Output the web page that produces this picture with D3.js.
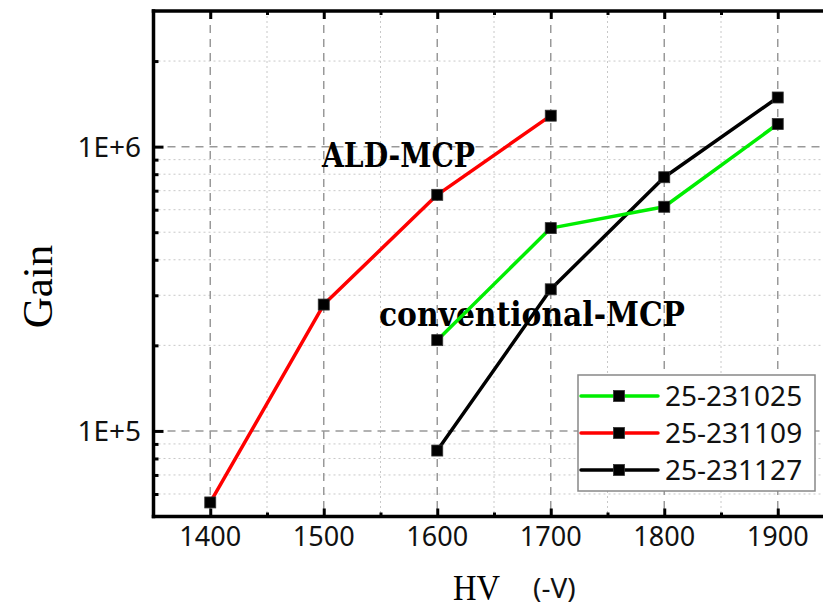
<!DOCTYPE html>
<html><head><meta charset="utf-8">
<script src="https://cdn.jsdelivr.net/npm/d3@7/dist/d3.min.js"></script>
<style>body{margin:0;background:#fff}svg{display:block}</style>
</head><body>
<script>
// ---- data ----
const hvValues = [1400, 1500, 1600, 1700, 1800, 1900];
const seriesNames = ["25-231025", "25-231109", "25-231127"];
const seriesColors = ["#00ee00", "#ff0000", "#000000"];
const hv231025 = [1600, 1700, 1800, 1900];
const gain231025 = [208600, 516900, 614400, 1201000];
const hv231109 = [1400, 1500, 1600, 1700];
const gain231109 = [56030, 278300, 676900, 1285000];
const hv231127 = [1600, 1700, 1800, 1900];
const gain231127 = [85300, 314900, 780500, 1489000];
const xTicks = [1400, 1500, 1600, 1700, 1800, 1900];
const xMinorTicks = [1450, 1550, 1650, 1750, 1850];
const yTicks = [1e5, 1e6];
const yTickLabels = ["1E+5", "1E+6"];
const yMinorTicks = [6e4, 7e4, 8e4, 9e4, 2e5, 3e5, 4e5, 5e5, 6e5, 7e5, 8e5, 9e5, 2e6];

const series = [
  {name: seriesNames[0], color: seriesColors[0], pts: hv231025.map((h,i)=>({x:h,y:gain231025[i]}))},
  {name: seriesNames[1], color: seriesColors[1], pts: hv231109.map((h,i)=>({x:h,y:gain231109[i]}))},
  {name: seriesNames[2], color: seriesColors[2], pts: hv231127.map((h,i)=>({x:h,y:gain231127[i]}))}
];

const W = 823, H = 609;
const L = 153.5, T = 11, B = 516.5, R = 834.5;
const svg = d3.select("body").append("svg").attr("width", W).attr("height", H);

const x = d3.scaleLinear().domain([1350, 1950]).range([L, R]);
const y = d3.scaleLog().domain([5e4, 3e6]).range([B, T]);

const sans = "'Noto Sans', 'Open Sans', sans-serif";
const serif = "'Liberation Serif', 'DejaVu Serif', serif";
const boldSerif = "'DejaVu Serif', 'Liberation Serif', serif";

// grid
const g = svg.append("g");
g.selectAll(".xminor").data(xMinorTicks).join("line")
  .attr("x1", d=>x(d)).attr("x2", d=>x(d)).attr("y1", T).attr("y2", B)
  .attr("stroke", "#c8c8c8").attr("stroke-width", 1).attr("stroke-dasharray", "2,3");
g.selectAll(".yminor").data(yMinorTicks).join("line")
  .attr("x1", L).attr("x2", R).attr("y1", d=>y(d)).attr("y2", d=>y(d))
  .attr("stroke", "#c8c8c8").attr("stroke-width", 1).attr("stroke-dasharray", "2,3");
g.selectAll(".xmajor").data(xTicks).join("line")
  .attr("x1", d=>x(d)).attr("x2", d=>x(d)).attr("y1", T).attr("y2", B)
  .attr("stroke", "#999").attr("stroke-width", 1.5).attr("stroke-dasharray", "8,6");
g.selectAll(".ymajor").data(yTicks).join("line")
  .attr("x1", L).attr("x2", R).attr("y1", d=>y(d)).attr("y2", d=>y(d))
  .attr("stroke", "#999").attr("stroke-width", 1.5).attr("stroke-dasharray", "8,6");

// annotations (beneath lines)
svg.append("text").attr("x", 322).attr("y", 167).text("ALD-MCP")
  .attr("font-family", boldSerif).attr("font-weight", "bold").attr("font-size", 33)
  .attr("textLength", 153).attr("lengthAdjust", "spacingAndGlyphs");
svg.append("text").attr("x", 379).attr("y", 326).text("conventional-MCP")
  .attr("font-family", boldSerif).attr("font-weight", "bold").attr("font-size", 33)
  .attr("textLength", 306).attr("lengthAdjust", "spacingAndGlyphs");

// axes with d3 axis (inward ticks)
const xAxisB = d3.axisBottom(x).tickValues(xTicks).tickSize(-8).tickFormat("").tickSizeOuter(0);
const gxb = svg.append("g").attr("transform", `translate(0,${B})`).call(xAxisB);
const xAxisBm = d3.axisBottom(x).tickValues(xMinorTicks).tickSize(-4).tickFormat("").tickSizeOuter(0);
const gxbm = svg.append("g").attr("transform", `translate(0,${B})`).call(xAxisBm);
const xAxisT = d3.axisTop(x).tickValues(xTicks).tickSize(-8).tickFormat("").tickSizeOuter(0);
const gxt = svg.append("g").attr("transform", `translate(0,${T})`).call(xAxisT);
const xAxisTm = d3.axisTop(x).tickValues(xMinorTicks).tickSize(-4).tickFormat("").tickSizeOuter(0);
const gxtm = svg.append("g").attr("transform", `translate(0,${T})`).call(xAxisTm);
const yAxis = d3.axisLeft(y).tickValues(yTicks).tickSize(-10).tickFormat("").tickSizeOuter(0);
const gy = svg.append("g").attr("transform", `translate(${L},0)`).call(yAxis);
const yAxisM = d3.axisLeft(y).tickValues(yMinorTicks).tickSize(-5).tickFormat("").tickSizeOuter(0);
const gym = svg.append("g").attr("transform", `translate(${L},0)`).call(yAxisM);
[gxb, gxbm, gxt, gxtm, gy, gym].forEach(a => {
  a.selectAll(".domain").attr("stroke", "#000").attr("stroke-width", 3.5);
  a.selectAll(".tick line").attr("stroke", "#000").attr("stroke-width", 3);
});
gxbm.selectAll(".domain").remove(); gxtm.selectAll(".domain").remove(); gym.selectAll(".domain").remove();
gxb.select(".domain").attr("d", `M${L-1.75},0H${R}`);
gxt.select(".domain").attr("d", `M${L-1.75},0H${R}`);
gy.select(".domain").attr("d", `M0,${T-1.75}V${B+1.75}`);

// tick labels
svg.selectAll(".xl").data(xTicks).join("text")
  .attr("x", d=>x(d)).attr("y", 546).attr("text-anchor", "middle")
  .attr("font-family", sans).attr("font-size", 27).attr("fill", "#111").text(d=>d);
svg.selectAll(".yl").data(yTicks).join("text")
  .attr("x", 141).attr("y", d=>y(d)+10).attr("text-anchor", "end")
  .attr("font-family", sans).attr("font-size", 28).attr("fill", "#111").text((d,i)=>yTickLabels[i]);

// axis titles
svg.append("text").attr("transform", "translate(52,286.5) rotate(-90)").attr("text-anchor", "middle")
  .attr("font-family", serif).attr("font-size", 43).text("Gain");
svg.append("text").attr("x", 453).attr("y", 600).text("HV")
  .attr("font-family", serif).attr("font-size", 36)
  .attr("textLength", 47).attr("lengthAdjust", "spacingAndGlyphs");
svg.append("text").attr("x", 533).attr("y", 598).text("(-V)")
  .attr("font-family", sans).attr("font-size", 28).attr("fill", "#111");

// series lines
const line = d3.line().x(d=>x(d.x)).y(d=>y(d.y));
const drawOrder = [2, 0, 1];
drawOrder.forEach(i => {
  const s = series[i];
  svg.append("path").datum(s.pts).attr("d", line).attr("fill", "none")
    .attr("stroke", s.color).attr("stroke-width", 3.5).attr("stroke-linejoin", "round");
});
drawOrder.forEach(i => {
  const s = series[i];
  svg.append("g").selectAll("rect").data(s.pts).join("rect")
    .attr("x", d=>x(d.x)-5.5).attr("y", d=>y(d.y)-5.5).attr("width", 11).attr("height", 11)
    .attr("fill", "#000").attr("stroke", "#333").attr("stroke-width", 0.8);
});

// legend
const lg = svg.append("g");
lg.append("rect").attr("x", 578).attr("y", 375).attr("width", 237).attr("height", 116)
  .attr("fill", "#fff").attr("stroke", "#888").attr("stroke-width", 1.5);
series.forEach((s, i) => {
  const cy = 396 + i * 37;
  lg.append("line").attr("x1", 581).attr("x2", 658).attr("y1", cy).attr("y2", cy)
    .attr("stroke", s.color).attr("stroke-width", 3.5).attr("stroke-linecap", "round");
  lg.append("rect").attr("x", 619-5.5).attr("y", cy-5.5).attr("width", 11).attr("height", 11)
    .attr("fill", "#000").attr("stroke", "#333").attr("stroke-width", 0.8);
  lg.append("text").attr("x", 665).attr("y", cy+10).text(s.name)
    .attr("font-family", sans).attr("font-size", 28).attr("fill", "#111");
});
</script>
</body></html>
